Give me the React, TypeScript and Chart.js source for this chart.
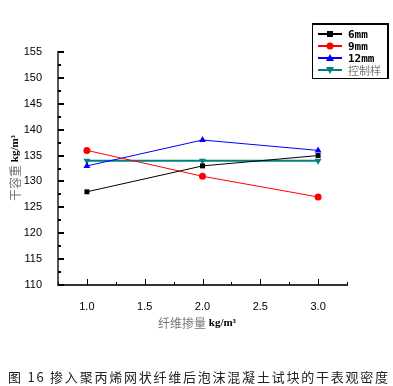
import React, { useEffect, useRef } from "react";
import { Chart, registerables } from "chart.js";

Chart.register(...registerables);

const xValues = [1.0, 2.0, 3.0];
const seriesNames = ["6mm", "9mm", "12mm", "控制样"];
const values6mm = [128, 133, 135];
const values9mm = [136, 131, 127];
const values12mm = [133, 138, 136];
const valuesControl = [134, 134, 134];
const xTickValues = [1.0, 1.5, 2.0, 2.5, 3.0];
const yTickValues = [110, 115, 120, 125, 130, 135, 140, 145, 150, 155];
const caption = "图 16 掺入聚丙烯网状纤维后泡沫混凝土试块的干表观密度";
const xTitleCn = "纤维掺量";
const unitText = "kg/m³";
const yTitleCn = "干容重";

const colors = ["#000000", "#ff0000", "#0000ff", "#008080"];
const styles: any[] = ["rect", "circle", "triangle", "triangle"];
const rotations = [0, 0, 0, 180];
const radii = [3.5, 3.5, 4, 4];
const widths = [1, 1, 1, 2];

const toPts = (arr: number[]) => arr.map((v, i) => ({ x: xValues[i], y: v }));

const CJK = '"Noto Sans CJK SC", sans-serif';

const customPlugin = {
  id: "custom",
  afterDraw(chart: any) {
    const ctx = chart.ctx;
    const { left, right, top, bottom } = chart.chartArea;
    const xs = chart.scales.x;
    const ys = chart.scales.y;
    ctx.save();
    ctx.strokeStyle = "#000";
    for (let v = 110; v <= 155.01; v += 2.5) {
      const y = Math.round(ys.getPixelForValue(v));
      const major = Math.abs(v % 5) < 0.01;
      ctx.lineWidth = 2;
      ctx.beginPath();
      ctx.moveTo(left, y);
      ctx.lineTo(left + (major ? 6 : 3), y);
      ctx.stroke();
    }
    for (let v = 0.75; v <= 3.26; v += 0.25) {
      const x = Math.round(xs.getPixelForValue(v)) + 0.5;
      const major = Math.abs((v * 2) % 1) < 0.01;
      ctx.lineWidth = 1;
      ctx.beginPath();
      ctx.moveTo(x, bottom);
      ctx.lineTo(x, bottom - (major ? 6 : 3));
      ctx.stroke();
    }
    // legend
    const lx = 312, ly = 23, lw = 75, lh = 55;
    ctx.fillStyle = "#fff";
    ctx.fillRect(lx, ly, lw, lh);
    ctx.strokeStyle = "#000";
    ctx.lineWidth = 1;
    ctx.strokeRect(lx + 0.5, ly + 0.5, lw, lh);
    ctx.lineWidth = 2;
    ctx.beginPath();
    ctx.moveTo(lx, ly + 1);
    ctx.lineTo(lx + lw + 1, ly + 1);
    ctx.lineTo(lx + lw + 1, ly + lh + 1);
    ctx.stroke();
    const rows = [34, 46, 58, 70];
    seriesNames.forEach((name, i) => {
      const y = rows[i];
      ctx.strokeStyle = colors[i];
      ctx.lineWidth = 2;
      ctx.beginPath();
      ctx.moveTo(318, y);
      ctx.lineTo(342, y);
      ctx.stroke();
      ctx.fillStyle = colors[i];
      ctx.beginPath();
      const cx = 330;
      if (styles[i] === "rect") {
        ctx.fillRect(cx - 3, y - 3, 6, 6);
      } else if (styles[i] === "circle") {
        ctx.arc(cx, y, 3.5, 0, Math.PI * 2);
        ctx.fill();
      } else if (rotations[i] === 0) {
        ctx.moveTo(cx, y - 4);
        ctx.lineTo(cx + 4, y + 3);
        ctx.lineTo(cx - 4, y + 3);
        ctx.closePath();
        ctx.fill();
      } else {
        ctx.moveTo(cx, y + 4);
        ctx.lineTo(cx + 4, y - 3);
        ctx.lineTo(cx - 4, y - 3);
        ctx.closePath();
        ctx.fill();
      }
      ctx.fillStyle = i === 3 ? "#777" : "#000";
      ctx.font = i === 3 ? `11px ${CJK}` : "bold 11px 'DejaVu Sans Mono', monospace";
      ctx.textAlign = "left";
      ctx.textBaseline = "middle";
      ctx.fillText(name, 348, y + 1);
    });
    // x title
    ctx.textBaseline = "middle";
    ctx.font = `12px ${CJK}`;
    const w1 = ctx.measureText(xTitleCn + " ").width;
    ctx.font = "bold 11px 'Liberation Serif', serif";
    const w2 = ctx.measureText(unitText).width;
    const sx = 197 - (w1 + w2) / 2;
    ctx.font = `12px ${CJK}`;
    ctx.fillStyle = "#777";
    ctx.textAlign = "left";
    ctx.fillText(xTitleCn + " ", sx, 323);
    ctx.font = "bold 11px 'Liberation Serif', serif";
    ctx.fillStyle = "#000";
    ctx.fillText(unitText, sx + w1, 323);
    // y title
    ctx.save();
    ctx.translate(15, 168);
    ctx.rotate(-Math.PI / 2);
    ctx.font = `12px ${CJK}`;
    const v1 = ctx.measureText(yTitleCn + " ").width;
    ctx.font = "bold 11px 'Liberation Serif', serif";
    const v2 = ctx.measureText(unitText).width;
    const sy = -(v1 + v2) / 2;
    ctx.font = `12px ${CJK}`;
    ctx.fillStyle = "#777";
    ctx.fillText(yTitleCn + " ", sy, 0);
    ctx.font = "bold 11px 'Liberation Serif', serif";
    ctx.fillStyle = "#000";
    ctx.fillText(unitText, sy + v1, 0);
    ctx.restore();
    // caption
    ctx.font = `13px ${CJK}`;
    ctx.fillStyle = "#222";
    ctx.textAlign = "left";
    const baseW = ctx.measureText(caption).width;
    const n = Array.from(caption).length;
    const spacing = Math.max(0, (380 - baseW) / (n - 1));
    (ctx as any).letterSpacing = `${spacing.toFixed(2)}px`;
    ctx.fillText(caption, 8, 377);
    (ctx as any).letterSpacing = "0px";
    ctx.restore();
  },
};

export default function App() {
  const ref = useRef<HTMLCanvasElement | null>(null);
  useEffect(() => {
    if (!ref.current) return;
    const dataArrays = [values6mm, values9mm, values12mm, valuesControl];
    const chart = new Chart(ref.current, {
      type: "line",
      data: {
        datasets: dataArrays.map((arr, i) => ({
          label: seriesNames[i],
          data: toPts(arr),
          borderColor: colors[i],
          backgroundColor: colors[i],
          borderWidth: widths[i],
          pointStyle: styles[i],
          rotation: rotations[i],
          pointRadius: radii[i],
          pointBorderWidth: 0,
          tension: 0,
          clip: false as any,
        })),
      },
      options: {
        responsive: false,
        animation: false,
        layout: { padding: { left: 0, top: 52, right: 46, bottom: 0 } },
        plugins: { legend: { display: false }, tooltip: { enabled: false }, title: { display: false } },
        scales: {
          x: {
            type: "linear",
            min: 0.75,
            max: 3.25,
            grid: { display: false },
            border: { display: true, color: "#333", width: 2 },
            afterBuildTicks: (s: any) => {
              s.ticks = xTickValues.map((v) => ({ value: v }));
            },
            afterFit: (s: any) => {
              s.height = 101;
            },
            ticks: {
              color: "#000",
              padding: 7,
              maxRotation: 0,
              font: { family: "'Liberation Sans', Arial, sans-serif", size: 11 },
              callback: (v: any) => Number(v).toFixed(1),
            },
          },
          y: {
            min: 110,
            max: 155,
            grid: { display: false },
            border: { display: true, color: "#555", width: 2 },
            afterBuildTicks: (s: any) => {
              s.ticks = yTickValues.map((v) => ({ value: v }));
            },
            afterFit: (s: any) => {
              s.width = 58;
            },
            ticks: {
              color: "#000",
              padding: 8,
              font: { family: "'Liberation Sans', Arial, sans-serif", size: 11 },
            },
          },
        },
      },
      plugins: [customPlugin],
    });
    return () => chart.destroy();
  }, []);
  return (
    <div style={{ position: "absolute", left: 0, top: 0, width: 393, height: 386, background: "#fff" }}>
      <canvas ref={ref} width={393} height={386} />
    </div>
  );
}
